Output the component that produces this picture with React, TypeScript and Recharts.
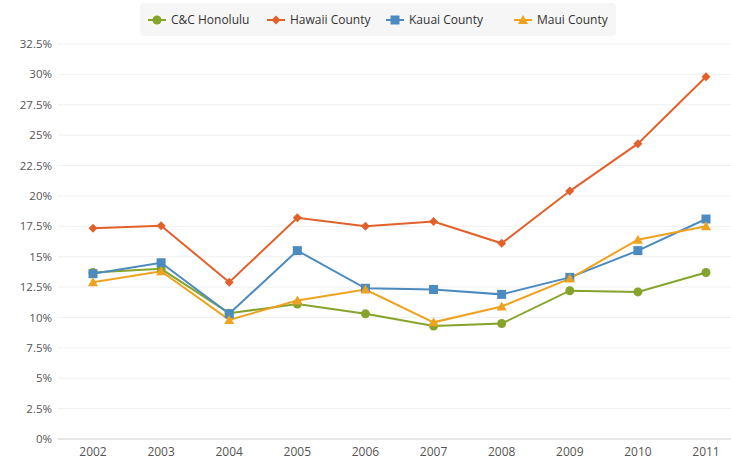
import React from "react";
import { LineChart, Line, XAxis, YAxis, CartesianGrid } from "recharts";

const years = ["2002", "2003", "2004", "2005", "2006", "2007", "2008", "2009", "2010", "2011"];
const honolulu = [13.7, 14.0, 10.35, 11.1, 10.3, 9.3, 9.5, 12.2, 12.1, 13.7];
const hawaii = [17.35, 17.55, 12.9, 18.2, 17.5, 17.9, 16.1, 20.4, 24.3, 29.8];
const kauai = [13.6, 14.5, 10.3, 15.5, 12.4, 12.3, 11.9, 13.3, 15.5, 18.1];
const maui = [12.9, 13.8, 9.8, 11.4, 12.3, 9.6, 10.9, 13.2, 16.4, 17.5];
const yTicks = [0, 2.5, 5, 7.5, 10, 12.5, 15, 17.5, 20, 22.5, 25, 27.5, 30, 32.5];

const data = years.map((year, i) => ({
  year,
  honolulu: honolulu[i],
  hawaii: hawaii[i],
  kauai: kauai[i],
  maui: maui[i],
}));

type Shape = "circle" | "diamond" | "square" | "triangle";

const series: { key: string; name: string; color: string; shape: Shape; left: number }[] = [
  { key: "honolulu", name: "C&C Honolulu", color: "#86a32c", shape: "circle", left: 148 },
  { key: "hawaii", name: "Hawaii County", color: "#e2612b", shape: "diamond", left: 267 },
  { key: "kauai", name: "Kauai County", color: "#4c8bbf", shape: "square", left: 386 },
  { key: "maui", name: "Maui County", color: "#eea21f", shape: "triangle", left: 514 },
];

const FONT = "'Open Sans', 'DejaVu Sans', sans-serif";

const Marker = ({ cx, cy, color, shape }: { cx: number; cy: number; color: string; shape: Shape }) => {
  if (cx == null || cy == null) return null;
  if (shape === "circle") return <circle cx={cx} cy={cy} r={4.5} fill={color} />;
  if (shape === "diamond")
    return <path d={`M${cx},${cy - 4.5}L${cx + 4.5},${cy}L${cx},${cy + 4.5}L${cx - 4.5},${cy}Z`} fill={color} />;
  if (shape === "square") return <rect x={cx - 4.5} y={cy - 4.5} width={9} height={9} fill={color} />;
  return <path d={`M${cx},${cy - 5}L${cx + 5},${cy + 4}L${cx - 5},${cy + 4}Z`} fill={color} />;
};

const LegendBox = () => (
  <div
    style={{
      position: "absolute",
      left: 140,
      top: 3,
      width: 476,
      height: 33,
      background: "#f6f6f6",
      borderRadius: 4,
      fontFamily: FONT,
      fontSize: 12,
      color: "#333",
    }}
  >
    {series.map((s) => (
      <div
        key={s.key}
        style={{
          position: "absolute",
          left: s.left - 140,
          top: 0,
          height: 33,
          display: "flex",
          alignItems: "center",
          gap: 5,
          whiteSpace: "nowrap",
        }}
      >
        <svg width={18} height={12}>
          <line x1={0} y1={6} x2={18} y2={6} stroke={s.color} strokeWidth={2} />
          <Marker cx={9} cy={6} color={s.color} shape={s.shape} />
        </svg>
        <span>{s.name}</span>
      </div>
    ))}
  </div>
);

export default function App() {
  return (
    <div style={{ position: "absolute", left: 0, top: 0, width: 731, height: 460, background: "#fff" }}>
      <LineChart width={731} height={460} data={data} margin={{ top: 44, right: 0, bottom: 0, left: 0 }}>
        <CartesianGrid vertical={false} stroke="#f0f0f0" />
        <XAxis
          dataKey="year"
          height={21}
          padding={{ left: 35, right: 25 }}
          tickLine={false}
          axisLine={{ stroke: "#d6d6d6" }}
          tick={{ fill: "#555", fontSize: 12, fontFamily: FONT }}
        />
        <YAxis
          width={58}
          domain={[0, 32.5]}
          ticks={yTicks}
          interval={0}
          tickLine={false}
          tickSize={4}
          axisLine={false}
          tickFormatter={(v: number) => `${v}%`}
          tick={{ fill: "#555", fontSize: 11.5, fontFamily: FONT }}
        />
        {series.map((s) => (
          <Line
            key={s.key}
            dataKey={s.key}
            name={s.name}
            stroke={s.color}
            strokeWidth={2}
            isAnimationActive={false}
            dot={(p: any) => <Marker key={`${s.key}-${p.index}`} cx={p.cx} cy={p.cy} color={s.color} shape={s.shape} />}
            activeDot={false}
          />
        ))}
      </LineChart>
      <LegendBox />
    </div>
  );
}
